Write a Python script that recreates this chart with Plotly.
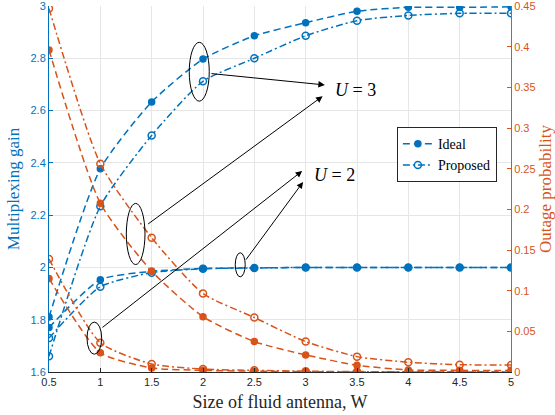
import plotly.graph_objects as go

# Size of fluid antenna W
W = [0.5, 1.0, 1.5, 2.0, 2.5, 3.0, 3.5, 4.0, 4.5, 5.0]
W_LABELS = ["0.5", "1", "1.5", "2", "2.5", "3", "3.5", "4", "4.5", "5"]

# Axis tick values
GAIN_TICKS = [1.6, 1.8, 2.0, 2.2, 2.4, 2.6, 2.8, 3.0]
GAIN_LABELS = ["1.6", "1.8", "2", "2.2", "2.4", "2.6", "2.8", "3"]
OUT_TICKS = [0, 0.05, 0.1, 0.15, 0.2, 0.25, 0.3, 0.35, 0.4, 0.45]
OUT_LABELS = ["0", "0.05", "0.1", "0.15", "0.2", "0.25", "0.3", "0.35", "0.4", "0.45"]

# Multiplexing gain (left axis)
gain_ideal_u3 = [1.81, 2.377, 2.633, 2.797, 2.886, 2.936, 2.980, 2.995, 2.995, 2.997]
gain_prop_u3 = [1.66, 2.234, 2.505, 2.712, 2.800, 2.886, 2.944, 2.964, 2.972, 2.972]
gain_ideal_u2 = [1.77, 1.953, 1.985, 1.996, 1.998, 2.0, 2.0, 2.0, 2.0, 2.0]
gain_prop_u2 = [1.73, 1.926, 1.980, 1.995, 1.998, 2.0, 2.0, 2.0, 2.0, 2.0]

# Outage probability (right axis)
out_ideal_u3 = [0.396, 0.2075, 0.124, 0.068, 0.0374, 0.021, 0.0083, 0.0025, 0.002, 0.002]
out_prop_u3 = [0.447, 0.256, 0.165, 0.0965, 0.067, 0.0374, 0.0189, 0.012, 0.009, 0.0085]
out_ideal_u2 = [0.115, 0.0238, 0.005, 0.002, 0.001, 0.0005, 0.0, 0.0, 0.0, 0.0]
out_prop_u2 = [0.139, 0.036, 0.0098, 0.0036, 0.002, 0.001, 0.0005, 0.0003, 0.0002, 0.0002]

BLUE = "#0072BD"
ORANGE = "#D95319"
SERIF = "Liberation Serif, Times New Roman, serif"
SANS = "Liberation Sans, Arial, sans-serif"

DASH = "7px,4px"
DASHDOT = "7px,3px,2px,3px"

fig = go.Figure()


def add_series(y, color, ideal, axis, name=None, legend=False):
    marker = dict(
        symbol="circle" if ideal else "circle-open",
        size=6 if ideal else 7,
        color=color,
        line=dict(width=1.5, color=color),
    )
    fig.add_trace(go.Scatter(
        x=W, y=y, yaxis=axis, mode="lines+markers",
        line=dict(color=color, width=1.5, dash=DASH if ideal else DASHDOT,
                  shape="spline", smoothing=0.6),
        marker=marker, name=name, showlegend=legend,
    ))


add_series(gain_ideal_u3, BLUE, True, "y", "Ideal", True)
add_series(gain_prop_u3, BLUE, False, "y", "Proposed", True)
add_series(gain_ideal_u2, BLUE, True, "y")
add_series(gain_prop_u2, BLUE, False, "y")
add_series(out_ideal_u3, ORANGE, True, "y2")
add_series(out_prop_u3, ORANGE, False, "y2")
add_series(out_ideal_u2, ORANGE, True, "y2")
add_series(out_prop_u2, ORANGE, False, "y2")

# Ellipses grouping the curves for each U
ellipses = [
    (1.866, 2.061, 2.636, 2.861),
    (1.253, 1.435, 2.011, 2.245),
    (0.870, 1.013, 1.668, 1.791),
    (2.314, 2.411, 1.964, 2.056),
]
for x0, x1, y0, y1 in ellipses:
    fig.add_shape(type="circle", xref="x", yref="y", x0=x0, x1=x1, y0=y0, y1=y1,
                  line=dict(color="black", width=1))

# Arrows: (tail x, tail y, head x, head y)
arrows = [
    (2.068, 2.742, 3.187, 2.698),
    (1.451, 2.162, 3.165, 2.655),
    (1.006, 1.766, 2.966, 2.369),
    (2.408, 2.024, 2.975, 2.327),
]
for tx, ty, hx, hy in arrows:
    fig.add_annotation(x=hx, y=hy, ax=tx, ay=ty, xref="x", yref="y",
                       axref="x", ayref="y", text="", showarrow=True,
                       arrowhead=2, arrowsize=1.3, arrowwidth=1,
                       arrowcolor="black")

fig.add_annotation(x=3.265, y=2.678, xref="x", yref="y", text="<i>U</i> = 3",
                   showarrow=False, xanchor="left", yanchor="middle",
                   font=dict(family=SERIF, size=18, color="black"))
fig.add_annotation(x=3.058, y=2.353, xref="x", yref="y", text="<i>U</i> = 2",
                   showarrow=False, xanchor="left", yanchor="middle",
                   font=dict(family=SERIF, size=18, color="black"))

fig.update_layout(
    width=555, height=415,
    margin=dict(l=49, r=44, t=6, b=43, autoexpand=False),
    paper_bgcolor="white", plot_bgcolor="white",
    showlegend=True,
    legend=dict(x=0.753, y=0.669, xanchor="left", yanchor="top",
                bgcolor="white", bordercolor="#262626", borderwidth=1,
                font=dict(family=SERIF, size=14, color="black"),
                itemwidth=30, tracegroupgap=0),
    xaxis=dict(
        range=[0.5, 5], tickmode="array", tickvals=W, ticktext=W_LABELS,
        showgrid=True, gridcolor="#e6e6e6", gridwidth=1,
        showline=True, linecolor="#262626", linewidth=1,
        ticks="inside", ticklen=4, tickcolor="#262626",
        tickfont=dict(family=SANS, size=11, color="#262626"),
        automargin=False,
        title=dict(text="Size of fluid antenna, W", standoff=8,
                   font=dict(family=SERIF, size=18, color="#262626")),
        zeroline=False,
    ),
    yaxis=dict(
        range=[1.6, 3], tickmode="array", tickvals=GAIN_TICKS, ticktext=GAIN_LABELS,
        showgrid=True, gridcolor="#e6e6e6", gridwidth=1,
        showline=True, linecolor=BLUE, linewidth=1,
        ticks="inside", ticklen=4, tickcolor=BLUE,
        tickfont=dict(family=SANS, size=11, color=BLUE),
        ticklabeloverflow="allow", automargin=False,
        title=dict(text="Multiplexing gain", standoff=6,
                   font=dict(family=SERIF, size=17, color=BLUE)),
        zeroline=False,
    ),
    yaxis2=dict(
        range=[0, 0.45], tickmode="array", tickvals=OUT_TICKS, ticktext=OUT_LABELS,
        overlaying="y", side="right", showgrid=False,
        showline=True, linecolor=ORANGE, linewidth=1,
        ticks="inside", ticklen=4, tickcolor=ORANGE,
        tickfont=dict(family=SANS, size=11, color=ORANGE),
        ticklabeloverflow="allow", automargin=False,
        title=dict(text="Outage probability", standoff=6,
                   font=dict(family=SERIF, size=17, color=ORANGE)),
        zeroline=False,
    ),
)

fig.write_html("out.html")
